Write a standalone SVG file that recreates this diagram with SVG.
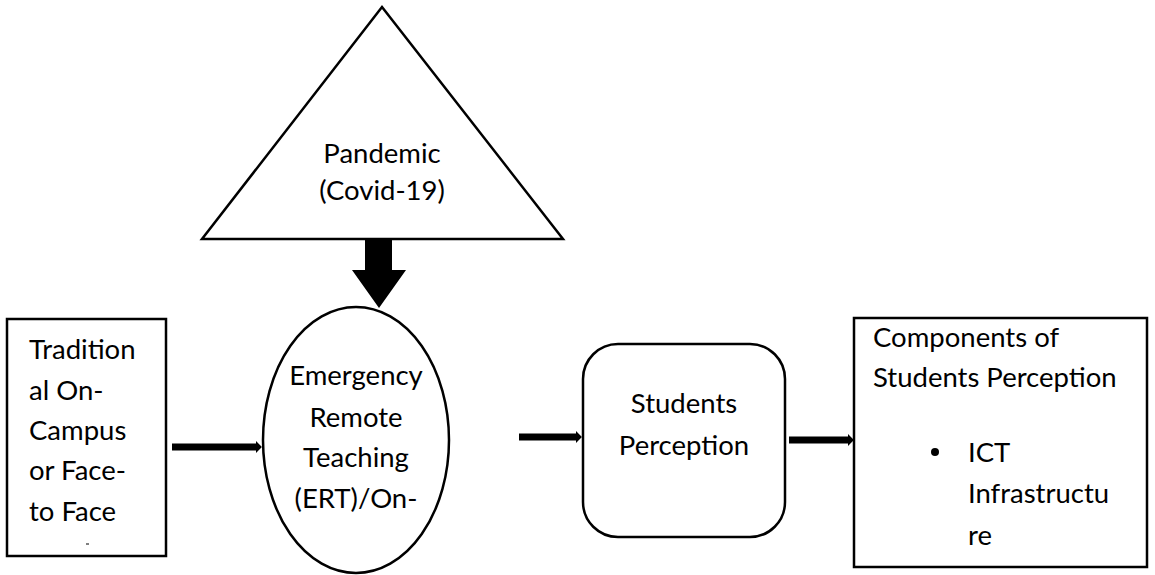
<svg xmlns="http://www.w3.org/2000/svg" width="1155" height="575" viewBox="0 0 1155 575">
<style>
.s{fill:#fff;stroke:#000;stroke-width:2.5}
.t{font-family:Lato,"Open Sans","Liberation Sans",sans-serif;font-size:27.5px;fill:#000}
.m{text-anchor:middle}
.c{stroke:#000;stroke-width:7;fill:none}
</style>
<defs>
<marker id="ah" markerWidth="2" markerHeight="2" refX="0.2" refY="1" orient="auto" markerUnits="strokeWidth">
<path d="M0,0.1 L0.9,1 L0,1.9 Z" fill="#000"/>
</marker>
</defs>
<rect width="1155" height="575" fill="#fff"/>
<g id="pandemic">
<polygon class="s" points="382,7 563,239 202,239"/>
<text class="t m" x="382" y="163">Pandemic</text>
<text class="t m" x="382" y="200">(Covid-19)</text>
</g>
<g id="traditional">
<rect class="s" x="7" y="319" width="159" height="237"/>
<text class="t" x="29" y="359">Tradition</text>
<text class="t" x="29" y="400">al On-</text>
<text class="t" x="29" y="440">Campus</text>
<text class="t" x="29" y="480">or Face-</text>
<text class="t" x="29" y="521">to Face</text>
<line x1="86" y1="544" x2="89" y2="544" stroke="#000" stroke-width="1"/>
</g>
<g id="ert">
<ellipse class="s" cx="356" cy="440" rx="93" ry="133"/>
<text class="t m" x="356" y="385">Emergency</text>
<text class="t m" x="356" y="427">Remote</text>
<text class="t m" x="356" y="467">Teaching</text>
<text class="t m" x="356" y="508">(ERT)/On-</text>
</g>
<g id="perception">
<rect class="s" x="583" y="344" width="202" height="193" rx="35" ry="35"/>
<text class="t m" x="684" y="413">Students</text>
<text class="t m" x="684" y="455">Perception</text>
</g>
<g id="components">
<rect class="s" x="854" y="318" width="293" height="249"/>
<text class="t" x="873" y="347">Components of</text>
<text class="t" x="873" y="387">Students Perception</text>
<circle cx="935" cy="452" r="4" fill="#000"/>
<text class="t" x="968" y="462">ICT</text>
<text class="t" x="968" y="503">Infrastructu</text>
<text class="t" x="968" y="545">re</text>
</g>
<g id="connectors">
<polygon points="365,240 392,240 392,270 406,270 379,308 352,270 365,270" fill="#000"/>
<line class="c" x1="172" y1="447" x2="257" y2="447" marker-end="url(#ah)"/>
<line class="c" x1="519" y1="437" x2="577" y2="437" marker-end="url(#ah)"/>
<line class="c" x1="789" y1="440" x2="849" y2="440" marker-end="url(#ah)"/>
</g>
</svg>
